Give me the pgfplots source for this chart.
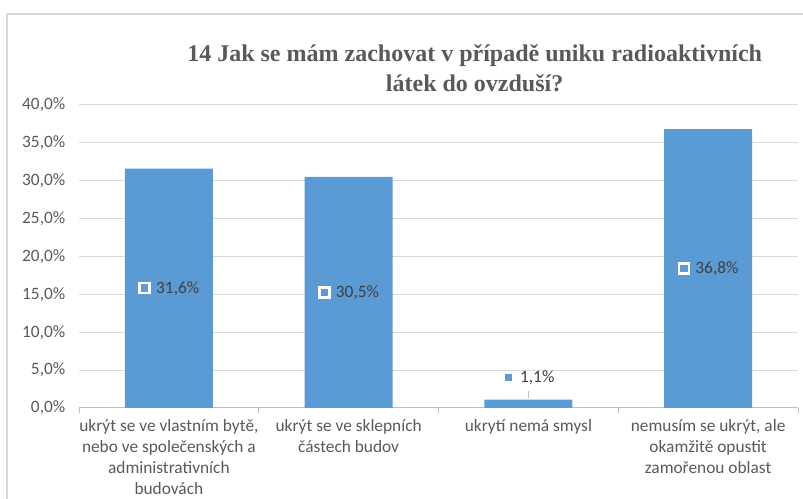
\documentclass[border=0pt]{standalone}
\usepackage{fontspec}
\setmainfont{Carlito}
\newfontfamily\titlefont{Liberation Serif}
\usepackage{pgfplots}
\pgfplotsset{compat=1.18}
\definecolor{barblue}{HTML}{5B9BD5}
\definecolor{txtgray}{HTML}{595959}
\definecolor{lblgray}{HTML}{404040}
\definecolor{gridgray}{HTML}{D9D9D9}
\definecolor{axgray}{HTML}{BFBFBF}
\newcommand{\keysq}{\tikz[baseline=-0.6ex]\node[fill=barblue,draw=white,line width=1.8pt,minimum size=7.5pt,inner sep=0pt]{};}

\begin{document}
\begin{tikzpicture}
\draw[gridgray,line width=1.5pt] (5.25pt,0pt) -- (5.25pt,363.75pt) -- (602.25pt,363.75pt);
\node[font=\titlefont\bfseries\fontsize{18}{22}\selectfont,text=txtgray,align=center] at (356pt,323pt)
  {14 Jak se mám zachovat v případě uniku radioaktivních\\látek do ovzduší?};
\begin{axis}[
  at={(59.25pt,68.25pt)},anchor=south west,
  scale only axis,width=539.25pt,height=227.25pt,
  xmin=-0.5,xmax=3.5,ymin=0,ymax=40,
  ytick={0,5,...,40},
  yticklabel={\pgfmathprintnumber[fixed,fixed zerofill,precision=1,use comma]{\tick}\%},
  /pgf/number format/assume math mode=true,
  yticklabel style={font=\fontsize{13}{15}\selectfont,text=txtgray,xshift=-2.5pt},
  ymajorgrids,grid style={gridgray,line width=0.75pt},
  major y tick style={draw=none},
  axis y line*=left,y axis line style={draw=none},
  axis x line*=bottom,x axis line style={axgray,line width=0.75pt},
  xtick={0,1,2,3},major x tick style={draw=none},
  minor xtick={-0.5,0.5,1.5,2.5,3.5},
  minor tick length=4pt,tick align=outside,
  minor x tick style={axgray,line width=0.75pt},
  xticklabels={{ukrýt se ve vlastním bytě,\\nebo ve společenských a\\administrativních\\budovách},
    {ukrýt se ve sklepních\\částech budov},
    {ukrytí nemá smysl},
    {nemusím se ukrýt, ale\\okamžitě opustit\\zamořenou oblast}},
  xticklabel style={font=\fontsize{13}{15.75}\selectfont,text=txtgray,align=center,anchor=north,yshift=-1pt},
  clip=false,
]
\addplot[ybar,bar width=0.49,fill=barblue,draw=none,
  visualization depends on={y \as \rawy},
  nodes near coords={\keysq\hspace{4pt}\pgfmathprintnumber[fixed,fixed zerofill,precision=1,use comma]{\pgfplotspointmeta}\%},
  every node near coord/.append style={font=\fontsize{13}{15}\selectfont,text=lblgray,anchor=center,
    yshift={(\rawy<5) ? 16.5 : -2.8406*\rawy}},
] coordinates {(0,31.6)(1,30.5)(2,1.1)(3,36.8)};
\draw[axgray,line width=0.75pt] ([yshift=1.2pt]axis cs:2,1.1) -- ([yshift=6.5pt]axis cs:2,1.1);
\end{axis}
\pgfresetboundingbox
\useasboundingbox (0pt,0pt) rectangle (602.25pt,374.25pt);
\end{tikzpicture}
\end{document}
